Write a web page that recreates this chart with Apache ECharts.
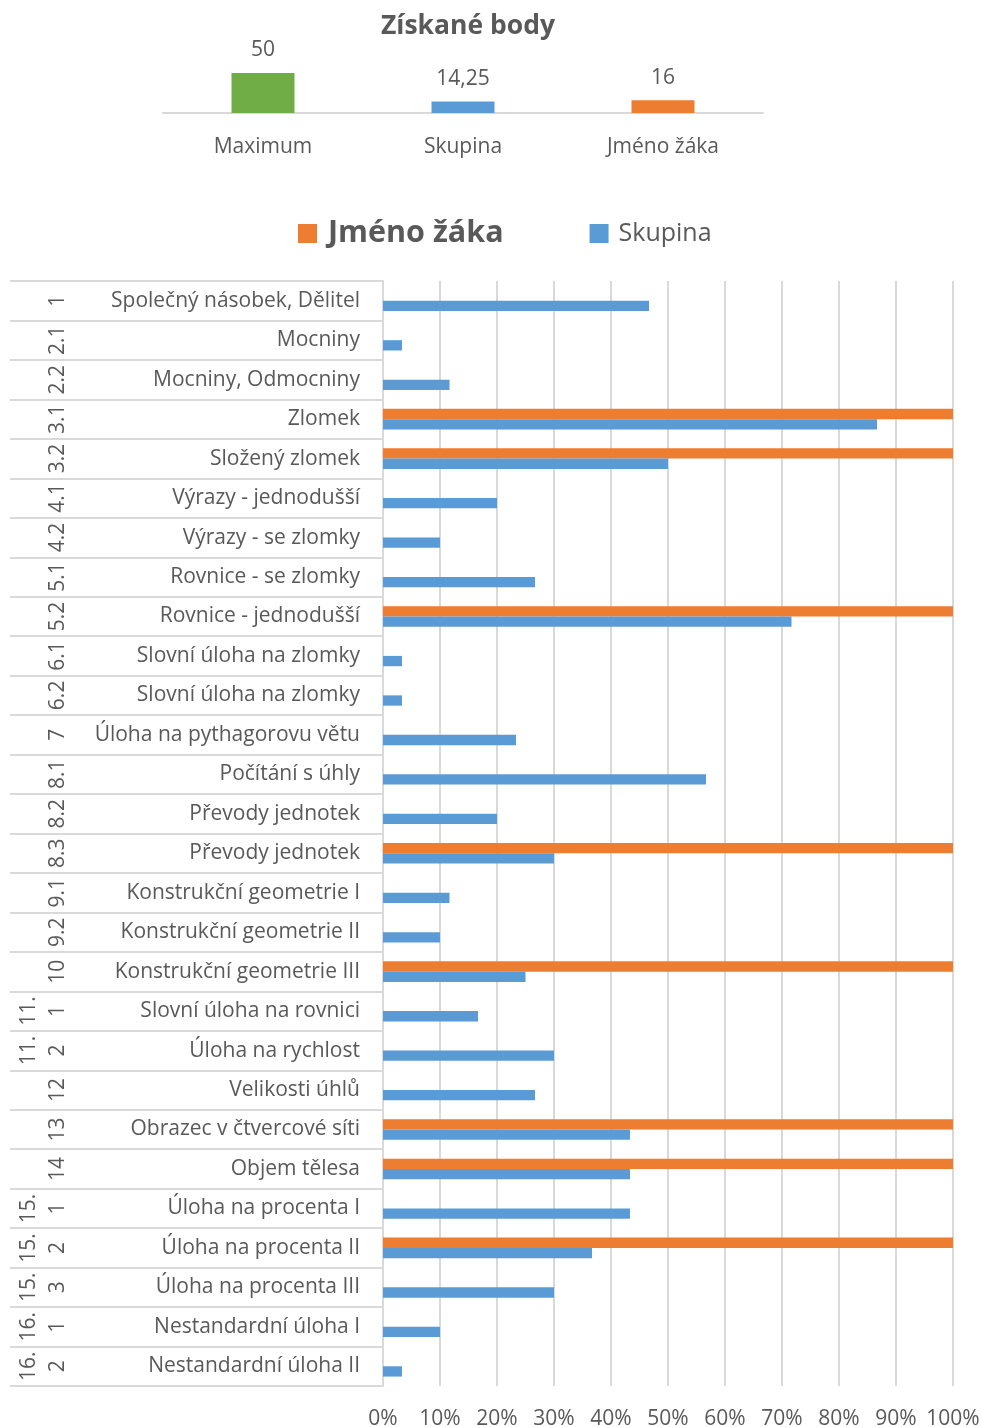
<!DOCTYPE html>
<html>
<head>
<meta charset="utf-8">
<script src="https://cdn.jsdelivr.net/npm/echarts@6/dist/echarts.min.js"></script>
<style>
html,body{margin:0;padding:0;background:#fff;}
#c{width:982px;height:1427px;}
</style>
</head>
<body>
<div id="c"></div>
<script>
// ---- Top chart data ----
const summaryCategories = ['Maximum', 'Skupina', 'Jméno žáka'];
const summaryValues = [50, 14.25, 16];
const summaryColors = ['#70ad47', '#5b9bd5', '#ed7d31'];

// ---- Bottom chart data ----
const taskNames = [
  'Společný násobek, Dělitel', 'Mocniny', 'Mocniny, Odmocniny', 'Zlomek', 'Složený zlomek',
  'Výrazy - jednodušší', 'Výrazy - se zlomky', 'Rovnice - se zlomky', 'Rovnice - jednodušší',
  'Slovní úloha na zlomky', 'Slovní úloha na zlomky', 'Úloha na pythagorovu větu',
  'Počítání s úhly', 'Převody jednotek', 'Převody jednotek', 'Konstrukční geometrie I',
  'Konstrukční geometrie II', 'Konstrukční geometrie III', 'Slovní úloha na rovnici',
  'Úloha na rychlost', 'Velikosti úhlů', 'Obrazec v čtvercové síti', 'Objem tělesa',
  'Úloha na procenta I', 'Úloha na procenta II', 'Úloha na procenta III',
  'Nestandardní úloha I', 'Nestandardní úloha II'
];
const taskCodes = [
  '1', '2.1', '2.2', '3.1', '3.2', '4.1', '4.2', '5.1', '5.2', '6.1', '6.2', '7',
  '8.1', '8.2', '8.3', '9.1', '9.2', '10', '1', '2', '12', '13', '14', '1', '2', '3', '1', '2'
];
const taskGroups = [
  '', '', '', '', '', '', '', '', '', '', '', '', '', '', '', '', '', '',
  '11.', '11.', '', '', '', '15.', '15.', '15.', '16.', '16.'
];
const studentPct = [
  0, 0, 0, 100, 100, 0, 0, 0, 100, 0, 0, 0, 0, 0, 100, 0, 0, 100,
  0, 0, 0, 100, 100, 0, 100, 0, 0, 0
];
const groupPct = [
  46.67, 3.33, 11.67, 86.67, 50, 20, 10, 26.67, 71.67, 3.33, 3.33, 23.33,
  56.67, 20, 30, 11.67, 10, 25, 16.67, 30, 26.67, 43.33, 43.33, 43.33, 36.67, 30, 10, 3.33
];
const pctTicks = { min: 0, max: 100, interval: 10 };

const FONT = 'Open Sans';
const TXT = '#595959';
const GRIDC = '#d9d9d9';

const chart = echarts.init(document.getElementById('c'), null, { renderer: 'canvas' });

const option = {
  animation: false,
  backgroundColor: '#fff',
  textStyle: { fontFamily: FONT, color: TXT },
  title: {
    text: 'Získané body',
    left: 463, top: 8, textAlign: 'center',
    textStyle: { fontFamily: FONT, fontSize: 26.5, fontWeight: 'bold', color: TXT }
  },
  legend: {
    left: 293, top: 213,
    itemWidth: 19, itemHeight: 19, itemGap: 86, icon: 'rect',
    selectedMode: false,
    data: [
      { name: 'Jméno žáka', textStyle: { fontFamily: FONT, fontSize: 30.5, fontWeight: 'bold', color: TXT, padding: [0, 0, 0, 6] } },
      { name: 'Skupina', textStyle: { fontFamily: FONT, fontSize: 25, color: TXT, padding: [0, 0, 0, 5] } }
    ]
  },
  grid: [
    { left: 163, top: 73, width: 600, height: 40, outerBoundsMode: 'none', containLabel: false },
    { left: 383, top: 281, width: 570, height: 1105, outerBoundsMode: 'none', containLabel: false }
  ],
  xAxis: [
    {
      gridIndex: 0, type: 'category', data: summaryCategories,
      axisLine: { lineStyle: { color: GRIDC, width: 2 } },
      axisTick: { show: false },
      axisLabel: { margin: 24, fontFamily: FONT, fontSize: 21, color: TXT }
    },
    {
      gridIndex: 1, type: 'value', min: pctTicks.min, max: pctTicks.max, interval: pctTicks.interval,
      position: 'bottom',
      axisLine: { show: false }, axisTick: { show: false },
      splitLine: { show: true, lineStyle: { color: GRIDC, width: 2 } },
      axisLabel: { margin: 23, fontFamily: FONT, fontSize: 21, color: TXT, formatter: '{value}%' }
    }
  ],
  yAxis: [
    { gridIndex: 0, type: 'value', min: 0, max: 50, show: false },
    {
      gridIndex: 1, type: 'category', data: taskNames, inverse: true,
      axisLine: { show: true, lineStyle: { color: GRIDC, width: 2 } },
      axisTick: { show: true, length: 373, lineStyle: { color: GRIDC, width: 2 } },
      axisLabel: { interval: 0, margin: 23, fontFamily: FONT, fontSize: 21, color: TXT }
    },
    {
      gridIndex: 1, type: 'category', data: taskCodes, inverse: true, position: 'left',
      axisLine: { show: false }, axisTick: { show: false },
      axisLabel: { interval: 0, rotate: 90, margin: 314, fontFamily: FONT, fontSize: 21, color: TXT }
    },
    {
      gridIndex: 1, type: 'category', data: taskGroups, inverse: true, position: 'left',
      axisLine: { show: false }, axisTick: { show: false },
      axisLabel: { interval: 0, rotate: 90, margin: 343, fontFamily: FONT, fontSize: 21, color: TXT }
    }
  ],
  series: [
    {
      name: 'Získané body', type: 'bar', xAxisIndex: 0, yAxisIndex: 0,
      barWidth: 63,
      data: summaryValues.map((v, i) => ({ value: v, itemStyle: { color: summaryColors[i] } })),
      label: {
        show: true, position: 'top', distance: 12,
        fontFamily: FONT, fontSize: 21, color: TXT,
        formatter: p => String(p.value).replace('.', ',')
      }
    },
    {
      name: 'Jméno žáka', type: 'bar', xAxisIndex: 1, yAxisIndex: 1,
      barWidth: 10.3, barGap: '0%',
      itemStyle: { color: '#ed7d31' },
      data: studentPct
    },
    {
      name: 'Skupina', type: 'bar', xAxisIndex: 1, yAxisIndex: 1,
      barWidth: 10.3, barGap: '0%',
      itemStyle: { color: '#5b9bd5' },
      data: groupPct
    }
  ]
};
chart.setOption(option);
</script>
</body>
</html>
